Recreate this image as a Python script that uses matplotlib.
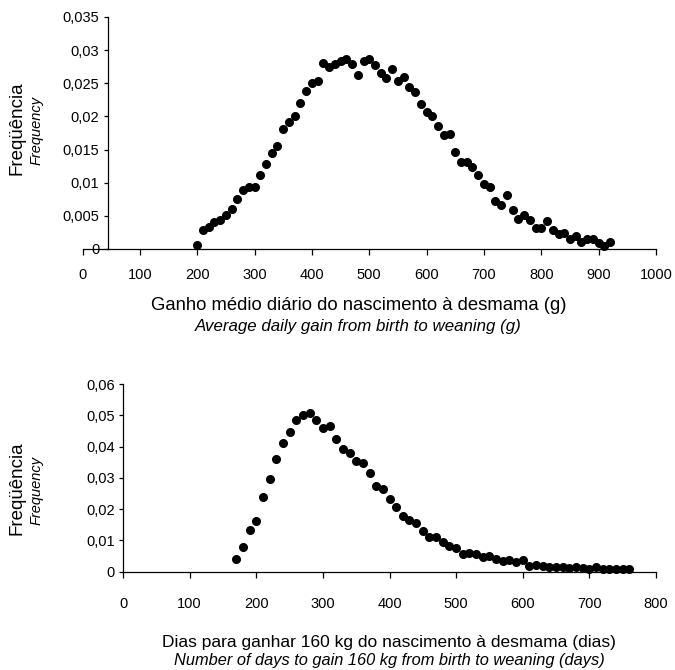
import matplotlib
matplotlib.use("Agg")
import matplotlib.pyplot as plt

plt.rcParams['font.family'] = ['Liberation Sans', 'DejaVu Sans']

# --- top panel: average daily gain (g) ---
gain_x = list(range(200, 930, 10))
gain_freq = [0.0006, 0.0029, 0.0033, 0.0040, 0.0044, 0.0051, 0.0061, 0.0075, 0.0089, 0.0094,
             0.0094, 0.0112, 0.0128, 0.0145, 0.0156, 0.0181, 0.0192, 0.0200, 0.0220, 0.0238,
             0.0251, 0.0253, 0.0280, 0.0274, 0.0279, 0.0283, 0.0287, 0.0279, 0.0262, 0.0284,
             0.0287, 0.0278, 0.0266, 0.0258, 0.0271, 0.0254, 0.0259, 0.0244, 0.0237, 0.0218,
             0.0206, 0.0200, 0.0186, 0.0172, 0.0173, 0.0146, 0.0132, 0.0131, 0.0123, 0.0111,
             0.0098, 0.0094, 0.0073, 0.0066, 0.0081, 0.0059, 0.0045, 0.0052, 0.0044, 0.0031,
             0.0031, 0.0042, 0.0029, 0.0022, 0.0024, 0.0015, 0.0020, 0.0011, 0.0015, 0.0015,
             0.0009, 0.0005, 0.0010]
gain_yticks = [0, 0.005, 0.01, 0.015, 0.02, 0.025, 0.03, 0.035]
gain_ylabels = ['0', '0,005', '0,01', '0,015', '0,02', '0,025', '0,03', '0,035']
gain_xticks = list(range(0, 1100, 100))

# --- bottom panel: days to gain 160 kg ---
days_x = list(range(170, 770, 10))
days_freq = [0.0041, 0.0078, 0.0132, 0.0163, 0.0240, 0.0295, 0.0361, 0.0410, 0.0447, 0.0485,
             0.0501, 0.0506, 0.0485, 0.0460, 0.0467, 0.0423, 0.0392, 0.0381, 0.0354, 0.0346,
             0.0314, 0.0274, 0.0264, 0.0233, 0.0208, 0.0179, 0.0165, 0.0155, 0.0131, 0.0112,
             0.0112, 0.0094, 0.0083, 0.0076, 0.0057, 0.0059, 0.0057, 0.0047, 0.0051, 0.0042,
             0.0035, 0.0036, 0.0030, 0.0036, 0.0019, 0.0020, 0.0019, 0.0016, 0.0016, 0.0014,
             0.0011, 0.0015, 0.0012, 0.0009, 0.0015, 0.0010, 0.0008, 0.0009, 0.0010, 0.0010]
days_yticks = [0, 0.01, 0.02, 0.03, 0.04, 0.05, 0.06]
days_ylabels = ['0', '0,01', '0,02', '0,03', '0,04', '0,05', '0,06']
days_xticks = list(range(0, 900, 100))

fig = plt.figure(figsize=(6.75, 6.7), dpi=100)
W, H = 675, 670


def px_axes(x0, x1, ytop, ybot):
    return fig.add_axes([x0 / W, 1 - ybot / H, (x1 - x0) / W, (ybot - ytop) / H])


def style(ax, xpad):
    for s in ['top', 'right']:
        ax.spines[s].set_visible(False)
    for s in ['left', 'bottom']:
        ax.spines[s].set_linewidth(0.9)
    ax.tick_params(axis='y', direction='out', length=3, width=0.9, pad=3, labelsize=10.5)
    ax.tick_params(axis='x', direction='out', length=4, width=0.9, pad=xpad, labelsize=10.5)


# top
ax1 = px_axes(82.5, 656, 17, 249)
ax1.plot(gain_x, gain_freq, 'o', color='black', ms=5.5, clip_on=False)
ax1.set_xlim(0, 1000)
ax1.set_ylim(0, 0.035)
ax1.set_xticks(gain_xticks)
ax1.set_yticks(gain_yticks)
ax1.set_yticklabels(gain_ylabels)
ax1.spines['left'].set_position(('data', 44))
style(ax1, 10)

# bottom
ax2 = px_axes(123, 656, 384, 571.7)
ax2.plot(days_x, days_freq, 'o', color='black', ms=5.5, clip_on=False)
ax2.set_xlim(0, 800)
ax2.set_ylim(0, 0.06)
ax2.set_xticks(days_xticks)
ax2.set_yticks(days_yticks)
ax2.set_yticklabels(days_ylabels)
style(ax2, 14)

# axis titles (Portuguese + English italic)
fig.text(359 / W, 1 - 305 / H, 'Ganho médio diário do nascimento à desmama (g)',
         ha='center', va='center', fontsize=13.3)
fig.text(358 / W, 1 - 326 / H, 'Average daily gain from birth to weaning (g)',
         ha='center', va='center', fontsize=12.2, style='italic')
fig.text(17 / W, 1 - 128 / H, 'Freqüência', rotation=90, ha='center', va='center', fontsize=13.5)
fig.text(37 / W, 1 - 130 / H, 'Frequency', rotation=90, ha='center', va='center',
         fontsize=10.5, style='italic')

fig.text(389 / W, 1 - 642 / H, 'Dias para ganhar 160 kg do nascimento à desmama (dias)',
         ha='center', va='center', fontsize=12.5)
fig.text(389 / W, 1 - 661 / H, 'Number of days to gain 160 kg from birth to weaning (days)',
         ha='center', va='center', fontsize=11.8, style='italic')
fig.text(17 / W, 1 - 488 / H, 'Freqüência', rotation=90, ha='center', va='center', fontsize=13.5)
fig.text(37 / W, 1 - 490 / H, 'Frequency', rotation=90, ha='center', va='center',
         fontsize=10.5, style='italic')

fig.savefig('out.png', dpi=100)
